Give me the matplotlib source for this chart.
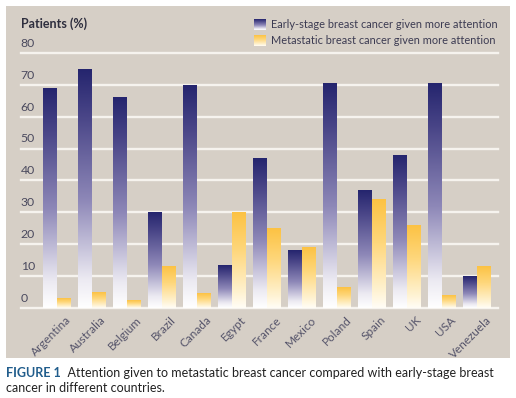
import numpy as np
import matplotlib
matplotlib.use("Agg")
import matplotlib.pyplot as plt
from matplotlib.colors import LinearSegmentedColormap
from matplotlib.patches import Rectangle

countries = ["Argentina", "Australia", "Belgium", "Brazil", "Canada", "Egypt", "France",
             "Mexico", "Poland", "Spain", "UK", "USA", "Venezuela"]
early = [69, 75, 66, 30, 70, 13.5, 47, 18, 70.5, 37, 48, 70.5, 10]
metastatic = [3, 5, 2.5, 13, 4.5, 30, 25, 19, 6.5, 34, 26, 4, 13]
yticks = [0, 10, 20, 30, 40, 50, 60, 70, 80]
series_labels = ["Early-stage breast cancer given more attention",
                 "Metastatic breast cancer given more attention"]
ylabel = "Patients (%)"
caption_head = "FIGURE 1"
caption_line1 = "  Attention given to metastatic breast cancer compared with early-stage breast"
caption_line2 = "cancer in different countries."

plt.rcParams['font.family'] = ['Lato', 'DejaVu Sans']

W, H = 516, 398
fig = plt.figure(figsize=(W / 100, H / 100), dpi=100)
fig.patch.set_facecolor("white")

panel_color = "#d6cfc6"
bg = fig.add_axes([0, 0, 1, 1], zorder=-10)
bg.set_axis_off()
bg.set_xlim(0, W)
bg.set_ylim(H, 0)
bg.add_patch(Rectangle((6, 6), 504, 352, facecolor=panel_color, edgecolor="none"))

left, right = 20.7, 498.3
y0px, y80px = 307.7, 53.0
ax = fig.add_axes([left / W, 1 - y0px / H, (right - left) / W, (y0px - y80px) / H], zorder=1)
ax.set_facecolor("none")
for s in ax.spines.values():
    s.set_visible(False)
ax.set_xticks([])
ax.set_yticks([])

tick_color = "#4b4a5e"
for v in yticks:
    ax.axhline(v, color="#f6f3ee", lw=1.7, zorder=1, clip_on=False)
    ax.text(-1.03, v + 1.3, str(v), ha="left", va="bottom", fontsize=8.8,
            color=tick_color, clip_on=False)

blue_cmap = LinearSegmentedColormap.from_list(
    "b", [(0, "#ffffff"), (0.12, "#eceaf2"), (0.45, "#8e88b8"), (0.8, "#4a4688"), (1, "#25256e")])
yellow_cmap = LinearSegmentedColormap.from_list(
    "y", [(0, "#fffdf6"), (0.15, "#fff3d4"), (0.6, "#fed77c"), (1, "#fcc243")])

x = np.arange(len(countries))
bw = 0.4
grad = np.linspace(0, 1, 256).reshape(-1, 1)
for vals, off, cmap in [(early, -bw / 2, blue_cmap), (metastatic, bw / 2, yellow_cmap)]:
    bars = ax.bar(x + off, vals, width=bw, facecolor="none", edgecolor="none", zorder=3)
    for b in bars:
        bx, by, bwid, bh = b.get_x(), b.get_y(), b.get_width(), b.get_height()
        ax.imshow(grad, cmap=cmap, origin="lower", aspect="auto",
                  extent=(bx, bx + bwid, by, by + bh), zorder=2, interpolation="bilinear")

ax.set_xlim(-1.03, 12.62)
ax.set_ylim(0, 80)

for i, c in enumerate(countries):
    ax.text(x[i] + 0.25, -2.0, c, rotation=45, ha="right", va="top",
            rotation_mode="anchor", fontsize=8.5, color="#55546a", clip_on=False)

fig.text(21 / W, 1 - 24 / H, ylabel, ha="left", va="center", fontsize=9,
         fontweight="bold", color="#2e2e3e")

# legend
for j, (lab, cmap) in enumerate(zip(series_labels, [blue_cmap, yellow_cmap])):
    ytop = 19 + j * 16
    lax = fig.add_axes([254 / W, 1 - (ytop + 11) / H, 12 / W, 11 / H], zorder=2)
    lax.imshow(grad, cmap=cmap, origin="lower", aspect="auto", extent=(0, 1, 0, 1))
    lax.set_axis_off()
    fig.text(271 / W, 1 - (ytop + 6) / H, lab, ha="left", va="center", fontsize=7.9,
             color="#3c3b52")

t = fig.text(6 / W, 1 - 373 / H, caption_head, ha="left", va="center", fontsize=9.0,
             fontweight="bold", color="#215d8c")
fig.canvas.draw()
bb = t.get_window_extent()
fig.text(bb.x1 / W, 1 - 373 / H, caption_line1, ha="left", va="center", fontsize=9.0,
         color="#222222")
fig.text(6 / W, 1 - 388 / H, caption_line2, ha="left", va="center", fontsize=9.0,
         color="#222222")

fig.savefig("out.png", dpi=100, facecolor="white")
